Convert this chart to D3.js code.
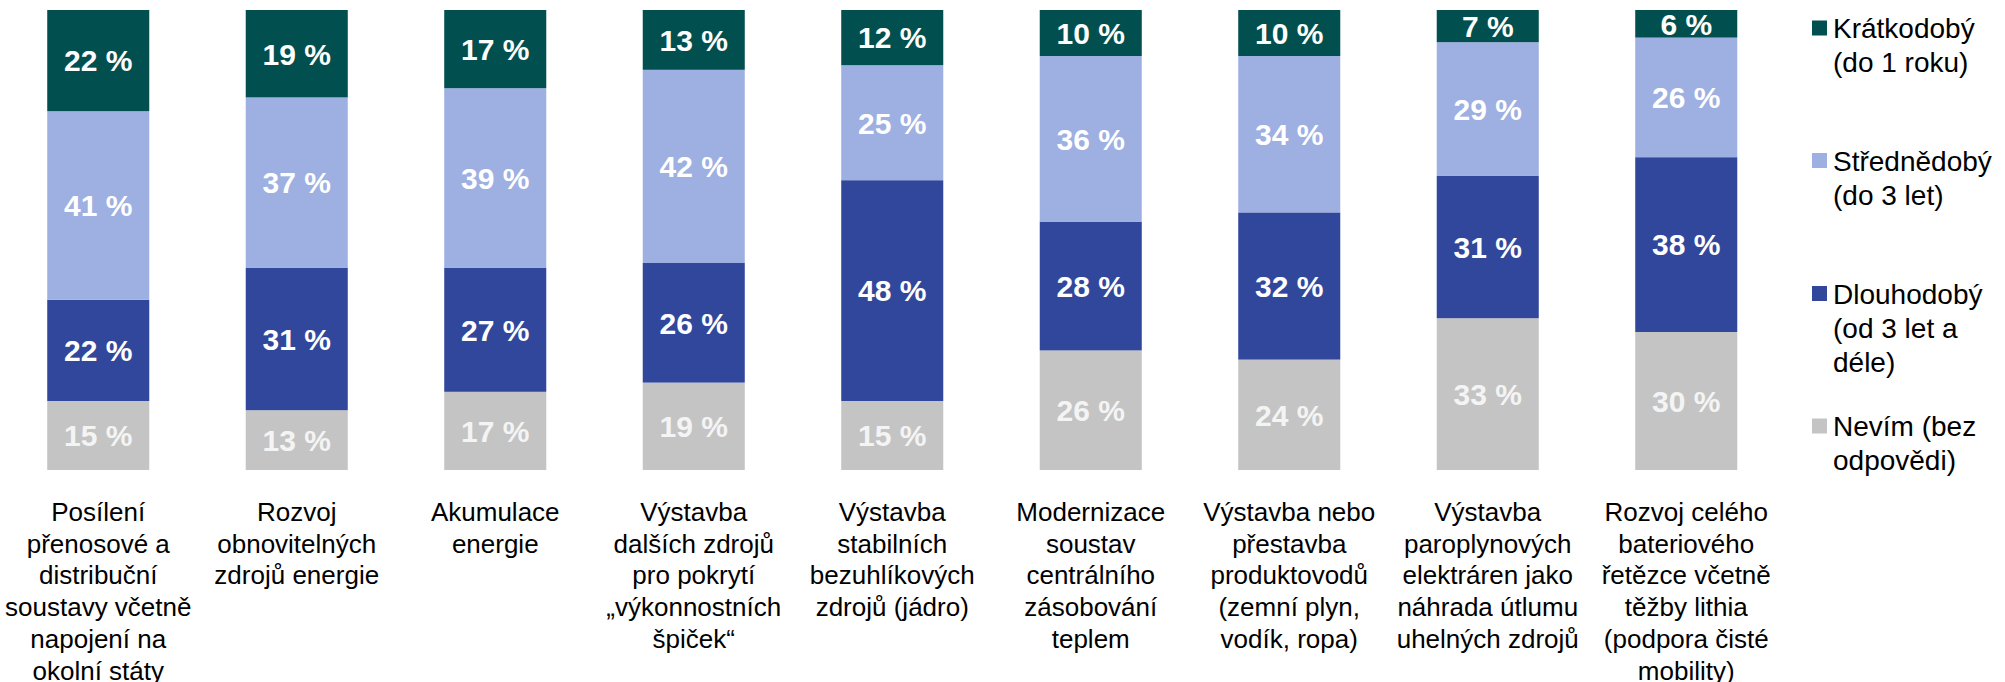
<!DOCTYPE html>
<html>
<head>
<meta charset="utf-8">
<script src="https://cdn.jsdelivr.net/npm/d3@7"></script>
<style>
  html, body { margin: 0; padding: 0; background: #fff; }
  svg { display: block; font-family: Arial, "Liberation Sans", sans-serif; }
</style>
</head>
<body>
<div id="chart"></div>
<script>
// categories (line breaks as in the original)
const categories = [
  ["Posílení", "přenosové a", "distribuční", "soustavy včetně", "napojení na", "okolní státy"],
  ["Rozvoj", "obnovitelných", "zdrojů energie"],
  ["Akumulace", "energie"],
  ["Výstavba", "dalších zdrojů", "pro pokrytí", "„výkonnostních", "špiček“"],
  ["Výstavba", "stabilních", "bezuhlíkových", "zdrojů (jádro)"],
  ["Modernizace", "soustav", "centrálního", "zásobování", "teplem"],
  ["Výstavba nebo", "přestavba", "produktovodů", "(zemní plyn,", "vodík, ropa)"],
  ["Výstavba", "paroplynových", "elektráren jako", "náhrada útlumu", "uhelných zdrojů"],
  ["Rozvoj celého", "bateriového", "řetězce včetně", "těžby lithia", "(podpora čisté", "mobility)"]
];

const seriesKeys = ["nevim", "dlouhodoby", "strednedoby", "kratkodoby"];
const seriesNames = {
  kratkodoby: ["Krátkodobý", "(do 1 roku)"],
  strednedoby: ["Střednědobý", "(do 3 let)"],
  dlouhodoby: ["Dlouhodobý", "(od 3 let a", "déle)"],
  nevim: ["Nevím (bez", "odpovědi)"]
};
const legendOrder = ["kratkodoby", "strednedoby", "dlouhodoby", "nevim"];

const kratkodoby  = [22, 19, 17, 13, 12, 10, 10, 7, 6];
const strednedoby = [41, 37, 39, 42, 25, 36, 34, 29, 26];
const dlouhodoby  = [22, 31, 27, 26, 48, 28, 32, 31, 38];
const nevim       = [15, 13, 17, 19, 15, 26, 24, 33, 30];

const colors = {
  kratkodoby: "#024f4f",
  strednedoby: "#9eafe1",
  dlouhodoby: "#31479c",
  nevim: "#c4c4c4"
};
const labelColors = {
  kratkodoby: "#ffffff",
  strednedoby: "#ffffff",
  dlouhodoby: "#ffffff",
  nevim: "#f4f4f4"
};

const width = 2005, height = 682;

const rows = categories.map((c, i) => ({
  idx: i,
  kratkodoby: kratkodoby[i],
  strednedoby: strednedoby[i],
  dlouhodoby: dlouhodoby[i],
  nevim: nevim[i]
}));

const svg = d3.select("#chart").append("svg")
  .attr("width", width)
  .attr("height", height)
  .attr("viewBox", [0, 0, width, height]);

const x = d3.scaleBand()
  .domain(d3.range(categories.length))
  .range([-1, -1 + 9 * 198.5])
  .paddingInner(0.486)
  .paddingOuter(0.243);

const y = d3.scaleLinear().domain([0, 100]).range([470, 10]);

const stack = d3.stack().keys(seriesKeys);
const stacked = stack(rows);

// bars
const layers = svg.append("g").attr("data-name", "bars")
  .selectAll("g")
  .data(stacked)
  .join("g")
  .attr("fill", d => colors[d.key]);

layers.selectAll("rect")
  .data(d => d.map(v => Object.assign(v, { key: d.key })))
  .join("rect")
  .attr("x", d => x(d.data.idx))
  .attr("y", d => y(d[1]))
  .attr("width", x.bandwidth())
  .attr("height", d => y(d[0]) - y(d[1]));

// value labels
layers.selectAll("text")
  .data(d => d)
  .join("text")
  .attr("x", d => x(d.data.idx) + x.bandwidth() / 2)
  .attr("y", d => (y(d[0]) + y(d[1])) / 2)
  .attr("dy", "0.36em")
  .attr("text-anchor", "middle")
  .attr("font-size", 30)
  .attr("font-weight", "bold")
  .attr("fill", d => labelColors[d.key])
  .text(d => (d[1] - d[0]) + " %");

// category labels
const cat = svg.append("g").attr("data-name", "categories")
  .selectAll("text")
  .data(categories)
  .join("text")
  .attr("text-anchor", "middle")
  .attr("font-size", 26)
  .attr("fill", "#000");

cat.selectAll("tspan")
  .data((d, i) => d.map(line => ({ line, i })))
  .join("tspan")
  .attr("x", d => x(d.i) + x.bandwidth() / 2)
  .attr("y", (d, j) => 521 + j * 31.7)
  .text(d => d.line);

// legend
const legendY = [28, 160.5, 293.5, 426];
const legend = svg.append("g").attr("data-name", "legend")
  .selectAll("g")
  .data(legendOrder)
  .join("g")
  .attr("transform", (d, i) => `translate(1812,${legendY[i]})`);

legend.append("rect")
  .attr("x", 0)
  .attr("y", -7.5)
  .attr("width", 15)
  .attr("height", 15)
  .attr("fill", d => colors[d]);

legend.append("text")
  .attr("font-size", 28)
  .attr("fill", "#000")
  .selectAll("tspan")
  .data(d => seriesNames[d])
  .join("tspan")
  .attr("x", 21)
  .attr("y", (d, j) => 10 + j * 34)
  .text(d => d);
</script>
</body>
</html>
